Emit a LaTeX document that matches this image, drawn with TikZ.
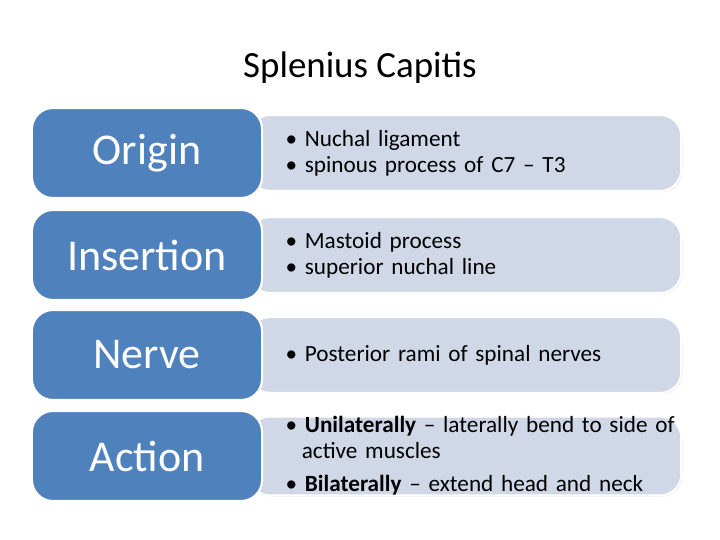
\documentclass[tikz,border=0pt]{standalone}
\usepackage{fontspec}
\setmainfont{Carlito}
\usetikzlibrary{positioning,shadows}
\definecolor{hdblue}{HTML}{4F81BD}
\definecolor{txtbg}{HTML}{D0D8E8}
\begin{document}
\begin{tikzpicture}[x=0.01cm, y=-0.01cm]
\tikzstyle{head}=[draw=white, line width=0.6pt, rounded corners=6pt, fill=hdblue,
                  minimum width=2.3cm, minimum height=0.9cm, text=white,
                  font=\fontsize{12.5}{14}\selectfont, inner sep=0pt]
\tikzstyle{info}=[draw=white, line width=0.6pt, rounded corners=6pt, fill=txtbg,
                  drop shadow={shadow xshift=0.3pt, shadow yshift=-0.3pt, opacity=0.3},
                  minimum width=4.32cm, minimum height=0.76cm, anchor=west,
                  text width=3.95cm, align=left, inner sep=0pt, xshift=0pt,
                  font=\fontsize{6.6}{7.4}\selectfont]
\useasboundingbox (0,0) rectangle (720,540);

\node[font=\fontsize{10.5}{12}\selectfont] (title) at (360,68) {Splenius Capitis};

% text boxes behind the headings
\node[info] (torigin) at (248,153) {\hspace*{0.18cm}\parbox{3.95cm}{\textbullet\ Nuchal ligament\\ \textbullet\ spinous process of C7 -- T3}};
\node[info] (tinsert) at (248,255) {\hspace*{0.18cm}\parbox{3.95cm}{\textbullet\ Mastoid process\\ \textbullet\ superior nuchal line}};
\node[info] (tnerve) at (248,355) {\hspace*{0.18cm}\parbox{3.95cm}{\textbullet\ Posterior rami of spinal nerves}};
\node[info] (taction) at (248,456) {\hspace*{0.18cm}\parbox{3.95cm}{\textbullet\ \textbf{Unilaterally} -- laterally bend to side of\\ \hspace*{0.7em}active muscles\\[2pt] \textbullet\ \textbf{Bilaterally} -- extend head and neck}};

% headings
\node[head] (origin) at (147,153) {Origin};
\node[head] (insert) at (147,255) {Insertion};
\node[head] (nerve) at (147,355) {Nerve};
\node[head] (action) at (147,456) {Action};
\end{tikzpicture}
\end{document}
